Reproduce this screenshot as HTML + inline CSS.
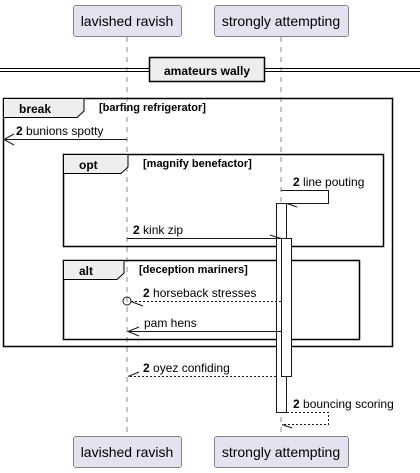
<html><head><style>
body{margin:0;background:#fff;width:420px;height:473px;overflow:hidden;font-family:"Liberation Sans",sans-serif}
</style></head><body>
<svg width="420" height="473" xmlns="http://www.w3.org/2000/svg" font-family="Liberation Sans, sans-serif">
<g stroke="#181818" stroke-width="0.5" stroke-dasharray="5,5">
<line x1="127" y1="37" x2="127" y2="436"/><line x1="281" y1="37" x2="281" y2="436"/>
</g>
<g fill="#E2E2F0" stroke="#181818" stroke-width="0.5">
<rect x="73.5" y="5.5" width="108" height="31" rx="2.5"/><rect x="214.5" y="5.5" width="134" height="31" rx="2.5"/>
<rect x="73.5" y="436.5" width="108" height="31" rx="2.5"/><rect x="214.5" y="436.5" width="134" height="31" rx="2.5"/>
</g>
<g font-size="14" fill="#000" text-anchor="middle">
<text x="127" y="26">lavished ravish</text><text x="281" y="26">strongly attempting</text>
<text x="127" y="457">lavished ravish</text><text x="281" y="457">strongly attempting</text>
</g>
<!-- divider -->
<g stroke="#000" stroke-width="1"><line x1="0" y1="68.5" x2="420" y2="68.5"/><line x1="0" y1="71.5" x2="420" y2="71.5"/></g>
<rect x="149.5" y="57.5" width="115" height="24" fill="#EEE" stroke="#000" stroke-width="1.5"/>
<text x="207" y="75" font-size="12" font-weight="bold" text-anchor="middle">amateurs wally</text>
<!-- frames -->
<g fill="none" stroke="#000" stroke-width="1.5">
<rect x="3.5" y="98.5" width="389" height="248"/>
<rect x="63.5" y="154.5" width="320" height="92"/>
<rect x="63.5" y="260.5" width="296" height="79"/>
</g>
<g fill="#EEE" stroke="#000" stroke-width="1">
<path d="M3.5 98.5H84V111L77 117.5H3.5Z"/>
<path d="M63.5 154.5H128V167L121 173.5H63.5Z"/>
<path d="M63.5 260.5H124V273L117 279.5H63.5Z"/>
</g>
<g font-size="12" font-weight="bold">
<text x="19" y="113">break</text><text x="79" y="169">opt</text><text x="79" y="275">alt</text>
</g>
<g font-size="11" font-weight="bold">
<text x="99" y="111">[barfing refrigerator]</text><text x="143" y="167">[magnify benefactor]</text><text x="139" y="273">[deception mariners]</text>
</g>
<!-- activations -->
<rect x="276.5" y="203.5" width="10" height="209" fill="#fff" stroke="#181818" stroke-width="1"/>
<rect x="281.5" y="238.5" width="10" height="138" fill="#fff" stroke="#181818" stroke-width="1"/>
<!-- messages -->
<g stroke="#181818" stroke-width="1" fill="none">
<line x1="127" y1="139.5" x2="4" y2="139.5"/><path d="M14 134L4 139.5L14 145"/>
<path d="M281 190.5H328.5V203.5H287"/><line x1="287" y1="203.5" x2="297" y2="207"/>
<line x1="127" y1="238.5" x2="281" y2="238.5"/><line x1="281" y1="238.5" x2="270" y2="235"/>
<line x1="281" y1="301.5" x2="131" y2="301.5" stroke-dasharray="2,2"/><circle cx="127" cy="301" r="4"/><line x1="131" y1="301.5" x2="143" y2="306"/>
<line x1="281" y1="331.5" x2="128" y2="331.5"/><path d="M139 327L128 331.5L139 336"/>
<line x1="276" y1="376.5" x2="128" y2="376.5" stroke-dasharray="2,2"/><line x1="128" y1="376.5" x2="139" y2="372"/>
<path d="M287 412.5H328.5V424.5H282" stroke-dasharray="2,2"/><line x1="282" y1="424.5" x2="292" y2="428"/>
</g>
<g font-size="12" fill="#000">
<text x="16" y="135"><tspan font-weight="bold">2</tspan> bunions spotty</text>
<text x="293" y="186"><tspan font-weight="bold">2</tspan> line pouting</text>
<text x="133" y="234"><tspan font-weight="bold">2</tspan> kink zip</text>
<text x="143" y="297"><tspan font-weight="bold">2</tspan> horseback stresses</text>
<text x="144" y="327">pam hens</text>
<text x="143" y="372"><tspan font-weight="bold">2</tspan> oyez confiding</text>
<text x="293" y="408"><tspan font-weight="bold">2</tspan> bouncing scoring</text>
</g>
</svg>
</body></html>
